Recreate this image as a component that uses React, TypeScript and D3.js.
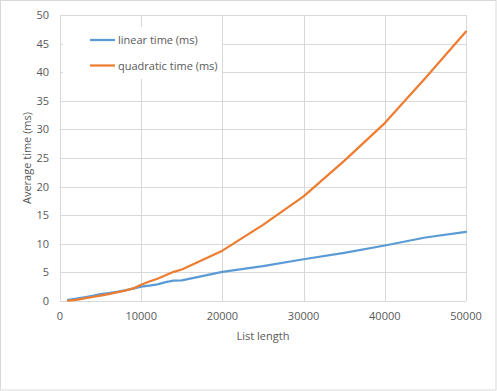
import React, { useEffect, useRef } from "react";
import * as d3 from "d3";

const listLengths = [
  1000, 2000, 3000, 4000, 5000, 6000, 7000, 8000, 9000, 10000, 11000, 12000,
  13000, 14000, 15000, 20000, 25000, 30000, 35000, 40000, 45000, 50000,
];
const linearTimes = [
  0.2, 0.4, 0.65, 0.9, 1.2, 1.4, 1.6, 1.85, 2.15, 2.5, 2.7, 2.9, 3.3, 3.55, 3.6,
  5.1, 6.1, 7.3, 8.4, 9.7, 11.1, 12.1,
];
const quadraticTimes = [
  0.05, 0.2, 0.45, 0.7, 0.95, 1.2, 1.5, 1.8, 2.2, 2.85, 3.4, 3.9, 4.5, 5.1, 5.5,
  8.8, 13.3, 18.3, 24.5, 31.1, 39.0, 47.1,
];
const seriesNames = ["linear time (ms)", "quadratic time (ms)"];
const seriesColors = ["#5b9bd5", "#ed7d31"];
const xTicks = [0, 10000, 20000, 30000, 40000, 50000];
const yTicks = [0, 5, 10, 15, 20, 25, 30, 35, 40, 45, 50];

const W = 497;
const H = 391;
const FONT = "'Open Sans', 'Noto Sans', sans-serif";

const App = () => {
  const svgRef = useRef(null);

  useEffect(() => {
    const svg = d3.select(svgRef.current);
    svg.selectAll("*").remove();

    const x = d3.scaleLinear().domain([0, 50000]).range([60, 466]);
    const y = d3.scaleLinear().domain([0, 50]).range([301, 15]);

    // chart border
    svg
      .append("rect")
      .attr("x", 0.5)
      .attr("y", 0.5)
      .attr("width", W - 1.5)
      .attr("height", H - 1.5)
      .attr("fill", "white")
      .attr("stroke", "#d9d9d9");

    // gridlines
    const grid = svg.append("g").attr("stroke", "#d9d9d9").attr("stroke-width", 1);
    yTicks.forEach((t) => {
      grid
        .append("line")
        .attr("x1", x(0))
        .attr("x2", x(50000))
        .attr("y1", Math.round(y(t)) + 0.5)
        .attr("y2", Math.round(y(t)) + 0.5);
    });
    xTicks.forEach((t) => {
      grid
        .append("line")
        .attr("x1", Math.round(x(t)) + 0.5)
        .attr("x2", Math.round(x(t)) + 0.5)
        .attr("y1", y(50))
        .attr("y2", y(0));
    });

    // tick labels
    svg
      .append("g")
      .selectAll("text")
      .data(yTicks)
      .join("text")
      .attr("x", 49)
      .attr("y", (d) => y(d) + 4)
      .attr("text-anchor", "end")
      .attr("font-family", FONT)
      .attr("font-size", 11)
      .attr("fill", "#595959")
      .text((d) => d);

    svg
      .append("g")
      .selectAll("text")
      .data(xTicks)
      .join("text")
      .attr("x", (d) => x(d))
      .attr("y", 320)
      .attr("text-anchor", "middle")
      .attr("font-family", FONT)
      .attr("font-size", 11)
      .attr("fill", "#595959")
      .text((d) => d);

    // axis titles
    svg
      .append("text")
      .attr("x", 263)
      .attr("y", 340)
      .attr("text-anchor", "middle")
      .attr("font-family", FONT)
      .attr("font-size", 11)
      .attr("fill", "#595959")
      .text("List length");

    svg
      .append("text")
      .attr("transform", "translate(31,158) rotate(-90)")
      .attr("text-anchor", "middle")
      .attr("font-family", FONT)
      .attr("font-size", 11)
      .attr("fill", "#595959")
      .text("Average time (ms)");

    // lines
    const line = d3
      .line()
      .x((d) => x(d[0]))
      .y((d) => y(d[1]));

    [linearTimes, quadraticTimes].forEach((vals, i) => {
      svg
        .append("path")
        .datum(listLengths.map((l, j) => [l, vals[j]]))
        .attr("fill", "none")
        .attr("stroke", seriesColors[i])
        .attr("stroke-width", 2.25)
        .attr("stroke-linejoin", "round")
        .attr("stroke-linecap", "round")
        .attr("d", line);
    });

    // legend
    const legend = svg.append("g");
    legend
      .append("rect")
      .attr("x", 63)
      .attr("y", 27)
      .attr("width", 159)
      .attr("height", 52)
      .attr("fill", "white");
    seriesNames.forEach((name, i) => {
      const ly = 40 + i * 25.5;
      legend
        .append("line")
        .attr("x1", 90)
        .attr("x2", 115)
        .attr("y1", ly)
        .attr("y2", ly)
        .attr("stroke", seriesColors[i])
        .attr("stroke-width", 2.25);
      legend
        .append("text")
        .attr("x", 118)
        .attr("y", ly + 4)
        .attr("font-family", FONT)
        .attr("font-size", 11)
        .attr("fill", "#595959")
        .text(name);
    });
  }, []);

  return (
    <svg
      ref={svgRef}
      width={W}
      height={H}
      style={{ position: "absolute", left: 0, top: 0, background: "white" }}
    ></svg>
  );
};

export default App;
